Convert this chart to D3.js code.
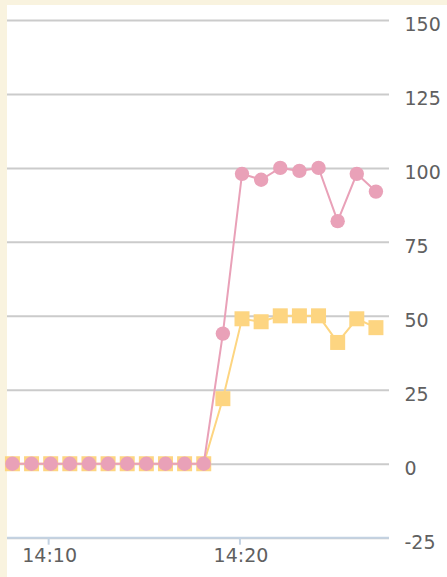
<!DOCTYPE html>
<html><head><meta charset="utf-8">
<script src="https://cdn.jsdelivr.net/npm/d3@7"></script>
<style>html,body{margin:0;padding:0;background:#f9f3df;overflow:hidden;} svg{display:block;}</style>
</head><body>
<script>
// ---- data ----
const times = ["14:08:08","14:09:08","14:10:08","14:11:08","14:12:08","14:13:08","14:14:08","14:15:08","14:16:08","14:17:08",
               "14:18:08","14:19:08","14:20:08","14:21:08","14:22:08","14:23:08","14:24:08","14:25:08","14:26:08","14:27:08"];
const pinkValues   = [0,0,0,0,0,0,0,0,0,0,0,44,98,96,100,99,100,82,98,92];
const yellowValues = [0,0,0,0,0,0,0,0,0,0,0,22,49,48,50,50,50,41,49,46];
const yTickValues = [-25,0,25,50,75,100,125,150];
const xTickLabels = ["14:10","14:20"];

// ---- layout ----
const W = 447, H = 577;
const plotLeft = 7, plotRight = 389, plotTop = 20, plotBottom = 537.7;
const parse = d3.timeParse("%H:%M:%S");
const fmt = d3.timeFormat("%H:%M");

const svg = d3.select("body").append("svg").attr("width", W).attr("height", H);
svg.append("rect").attr("x", 7).attr("y", 5).attr("width", W - 7).attr("height", H - 5).attr("fill", "#ffffff");

const x = d3.scaleTime().domain([parse("14:07:51"), parse("14:27:49")]).range([plotLeft, plotRight]);
const y = d3.scaleLinear().domain([-25, 150]).range([plotBottom, plotTop]);

const font = "DejaVu Sans";
const labelColor = "#606060";

// gridlines + y labels (right side)
const yAxis = d3.axisRight(y).tickValues(yTickValues).tickSize(-(plotRight - plotLeft)).tickPadding(15)
  .tickFormat(d => String(d));
const gy = svg.append("g").attr("transform", `translate(${plotRight},0)`).call(yAxis);
gy.select(".domain").remove();
gy.selectAll(".tick line").attr("stroke", "#cbcbcb").attr("stroke-width", 2);
gy.selectAll(".tick text")
  .attr("font-family", font).attr("font-size", 19).attr("fill", labelColor)
  .attr("text-anchor", "start").attr("x", 15.5).attr("dy", null).attr("y", 10.5);

// x axis
const xAxis = d3.axisBottom(x).tickValues(xTickLabels.map(s => parse(s + ":00"))).tickSize(7).tickPadding(4)
  .tickFormat(d => fmt(d));
const gx = svg.append("g").attr("transform", `translate(0,${plotBottom})`).call(xAxis);
gx.select(".domain").attr("stroke", "#c3d2e2").attr("stroke-width", 2)
  .attr("d", `M${plotLeft},0H${plotRight}`);
gx.selectAll(".tick line").attr("stroke", "#c3d2e2").attr("stroke-width", 2);
gx.selectAll(".tick text")
  .attr("font-family", font).attr("font-size", 19).attr("fill", labelColor)
  .attr("dy", null).attr("y", 24.5).attr("x", 1);

// series
const pink = "#e9a1b8", yellow = "#fdd581";
const mk = vals => vals.map((v, i) => ({t: parse(times[i]), v}));
const line = d3.line().x(d => x(d.t)).y(d => y(d.v));

const yData = mk(yellowValues), pData = mk(pinkValues);

svg.append("path").datum(yData).attr("d", line).attr("fill", "none").attr("stroke", yellow).attr("stroke-width", 2);
svg.append("g").selectAll("rect").data(yData).join("rect")
  .attr("x", d => x(d.t) - 7.5).attr("y", d => y(d.v) - 7.5).attr("width", 15).attr("height", 15).attr("fill", yellow);

svg.append("path").datum(pData).attr("d", line).attr("fill", "none").attr("stroke", pink).attr("stroke-width", 2);
svg.append("g").selectAll("circle").data(pData).join("circle")
  .attr("cx", d => x(d.t)).attr("cy", d => y(d.v)).attr("r", 7.2).attr("fill", pink);
</script>
</body></html>
